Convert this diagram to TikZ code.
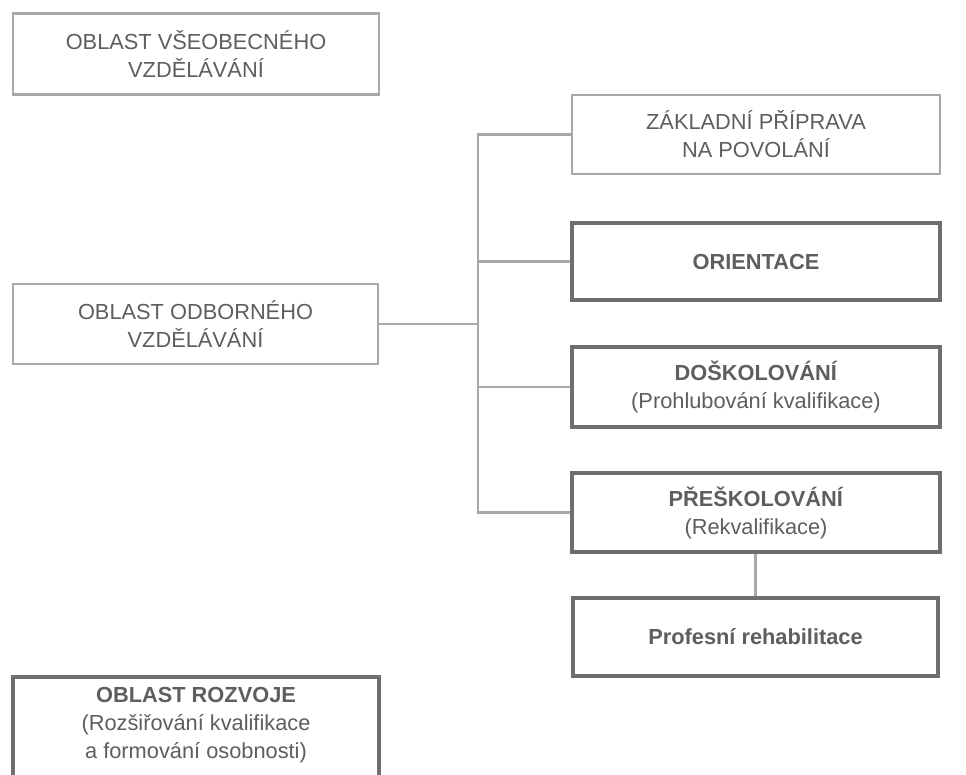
\documentclass[tikz,border=0pt]{standalone}
\usepackage{fontspec}
\setmainfont{Liberation Sans}
\definecolor{inkgray}{HTML}{5E5E5E}
\definecolor{thinline}{HTML}{A8A8A8}
\definecolor{boldline}{HTML}{6E6E6E}
\tikzset{
  thinbox/.style={draw=thinline, line width=1.1pt, align=center, text=inkgray,
    inner sep=0pt, font=\fontsize{10.9}{14}\selectfont},
  boldbox/.style={draw=boldline, line width=1.6pt, align=center, text=inkgray,
    inner sep=0pt, font=\fontsize{10.9}{14}\selectfont},
  link/.style={draw=thinline, line width=1.1pt}
}
\begin{document}
\begin{tikzpicture}[x=0.5pt,y=-0.5pt]
\useasboundingbox (0,0) rectangle (966,775);
\fill[white] (0,0) rectangle (966,775);

% left column
\node[thinbox, minimum width=183pt, minimum height=40.5pt] (vseob) at (196,54)
  {OBLAST VŠEOBECNÉHO\\VZDĚLÁVÁNÍ};
\node[thinbox, minimum width=182.5pt, minimum height=40pt] (odbor) at (195.5,324)
  {OBLAST ODBORNÉHO\\VZDĚLÁVÁNÍ};

% right column
\node[thinbox, minimum width=184pt, minimum height=39.5pt] (zaklad) at (756,134.5)
  {ZÁKLADNÍ PŘÍPRAVA\\NA POVOLÁNÍ};
\node[boldbox, minimum width=184pt, minimum height=38.5pt] (orient) at (756,261.5)
  {\textbf{ORIENTACE}};
\node[boldbox, minimum width=184pt, minimum height=40pt] (dosk) at (756,387)
  {\textbf{DOŠKOLOVÁNÍ}\\(Prohlubování kvalifikace)};
\node[boldbox, minimum width=184pt, minimum height=39.5pt] (presk) at (756,512.5)
  {\textbf{PŘEŠKOLOVÁNÍ}\\(Rekvalifikace)};
\node[boldbox, minimum width=182.5pt, minimum height=39pt] (rehab) at (755.5,637)
  {\textbf{Profesní rehabilitace}};

% bottom box, running past the lower edge
\begin{scope}
\clip (0,0) rectangle (966,775);
\draw[draw=boldline, line width=1.6pt] (13,800) |- (379,677) -- (379,800);
\end{scope}
\node[text=inkgray, align=center, font=\fontsize{10.9}{14}\selectfont, anchor=north]
  (rozvoj) at (196,680)
  {\textbf{OBLAST ROZVOJE}\\(Rozšiřování kvalifikace\\a formování osobnosti)};

% connectors
\coordinate (bus) at (478,324);
\draw[link] (odbor.east) -- (bus);
\draw[link] (zaklad.west) -| (bus) |- (presk.west);
\draw[link] (orient.west) -- (orient.west -| bus);
\draw[link] (dosk.west) -- (dosk.west -| bus);
\draw[link] (presk.south -| rehab.north) -- (rehab.north);
\end{tikzpicture}
\end{document}
